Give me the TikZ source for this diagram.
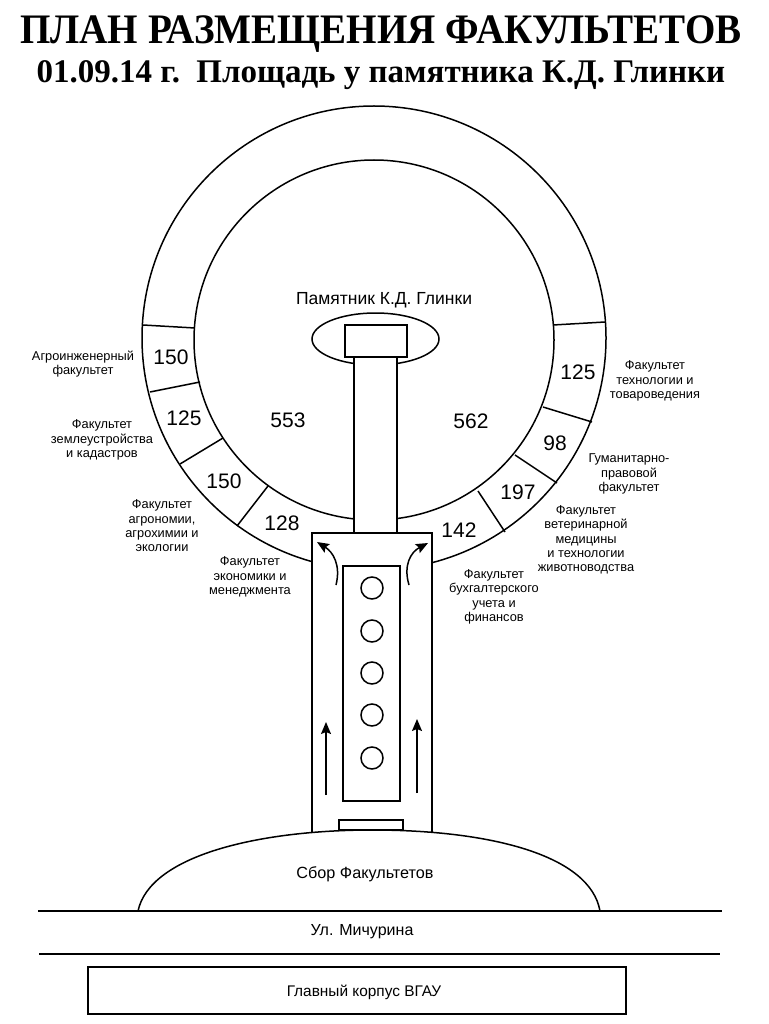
\documentclass[tikz,border=0pt]{standalone}
\usepackage{fontspec}
\setmainfont{Liberation Sans}
\newfontfamily\titlefont{Liberation Serif}
\usetikzlibrary{shapes.geometric, arrows.meta, positioning}

\tikzset{
    planline/.style={draw, line width=1.5pt},
    whitebox/.style={planline, fill=white},
    seatnum/.style={font=\fontsize{21}{24}\selectfont},
    faclabel/.style={align=center, inner sep=0pt, font=\fontsize{12.8}{14.4}\selectfont},
    placelabel/.style={inner sep=0pt, font=\fontsize{16.2}{18}\selectfont},
    flowarrow/.style={-{Stealth[length=12pt,width=10pt,inset=2pt]}, line width=1.5pt}
}

\begin{document}
\begin{tikzpicture}[x=1pt,y=-1pt]
    \useasboundingbox (0,0) rectangle (768,1024);

    % Title
    \node[font=\titlefont\bfseries\fontsize{42}{44}\selectfont, inner sep=0pt] (title) at (381,34) {\scalebox{0.93}[1]{ПЛАН РАЗМЕЩЕНИЯ ФАКУЛЬТЕТОВ}};
    \node[font=\titlefont\bfseries\fontsize{33}{36}\selectfont, inner sep=0pt] (subtitle) at (381,75) {01.09.14 г.\ \ Площадь у памятника К.Д. Глинки};

    % Square: outer and inner circle
    \node[planline, circle, minimum size=464pt, inner sep=0pt] (outerring) at (374,338) {};
    \node[planline, circle, minimum size=360pt, inner sep=0pt] (innerring) at (374,340) {};

    % Sector borders
    \foreach \ax/\ay/\bx/\by in {143/325/195/328, 150/392/200/382, 180/464/223/438, 237/526/268/486,
        605/322/553/325, 592/422/543/407, 557/483/515/455, 505/532/478/491} {
        \draw[line width=1.5pt] (\ax,\ay) -- (\bx,\by);
    }

    % Monument
    \node[planline, ellipse, minimum width=127pt, minimum height=52pt, inner sep=0pt] (monument) at (375.5,339) {};
    \draw[whitebox] (354,357) rectangle (397,540);
    \node[whitebox, minimum width=62pt, minimum height=32pt, inner sep=0pt] (plinth) at (376,341) {};
    \node[placelabel, font=\fontsize{17.5}{20}\selectfont] (monumentlabel) at (384,300) {Памятник К.Д. Глинки};

    % Alley
    \draw[whitebox] (312,533) rectangle (432,840);
    \draw[planline] (343,566) rectangle (400,801);
    \foreach \cy [count=\i] in {588,631,673,715,758} {
        \node[planline, circle, minimum size=22pt, inner sep=0pt] (stone\i) at (372,\cy) {};
    }
    \draw[flowarrow] (326,795) -- (326,722);
    \draw[flowarrow] (417,793) -- (417,719);
    \draw[flowarrow] (336,585) .. controls (341,565) and (333,552) .. (317,542);
    \draw[flowarrow] (409,585) .. controls (403,565) and (411,552) .. (428,543);

    % Assembly area
    \draw[whitebox] (138,911) .. controls (150,855) and (260,830) .. (372,830) .. controls (490,830) and (590,855) .. (600,911);
    \draw[planline] (339,830) rectangle (403,820);
    \node[placelabel] (assembly) at (365,874) {Сбор Факультетов};

    % Street
    \draw[line width=1.5pt] (38,911) -- (722,911);
    \draw[line width=1.5pt] (39,954) -- (720,954);
    \node[placelabel, font=\fontsize{16}{18}\selectfont] (street) at (362,932) {Ул. Мичурина};

    % Main building
    \node[planline, minimum width=538pt, minimum height=47pt, inner sep=0pt] (building) at (357,990.5) {};
    \node[font=\fontsize{15.4}{17}\selectfont, inner sep=0pt] (buildinglabel) at (364,992) {Главный корпус ВГАУ};

    % Numbers
    \node[seatnum] (n150a) at (171,357) {150};
    \node[seatnum] (n125a) at (184,418) {125};
    \node[seatnum] (n150b) at (224,481) {150};
    \node[seatnum] (n128) at (282,523) {128};
    \node[seatnum] (n553) at (288,420) {553};
    \node[seatnum] (n562) at (471,421) {562};
    \node[seatnum] (n125b) at (578,372) {125};
    \node[seatnum] (n98) at (555,443) {98};
    \node[seatnum] (n197) at (518,492) {197};
    \node[seatnum] (n142) at (459,530) {142};

    % Faculties
    \node[faclabel] (agroeng) at (83,364) {Агроинженерный\\факультет};
    \node[faclabel] (land) at (102,440) {Факультет\\землеустройства\\и кадастров};
    \node[faclabel] (agron) at (162,526) {Факультет\\агрономии,\\агрохимии и\\экологии};
    \node[faclabel] (econ) at (250,577) {Факультет\\экономики и\\менеджмента};
    \node[faclabel] (tech) at (655,381) {Факультет\\технологии и\\товароведения};
    \node[faclabel] (human) at (629,474) {Гуманитарно-\\правовой\\факультет};
    \node[faclabel] (vet) at (586,540) {Факультет\\ветеринарной\\медицины\\и технологии\\животноводства};
    \node[faclabel] (account) at (494,597) {Факультет\\бухгалтерского\\учета и\\финансов};
\end{tikzpicture}
\end{document}
